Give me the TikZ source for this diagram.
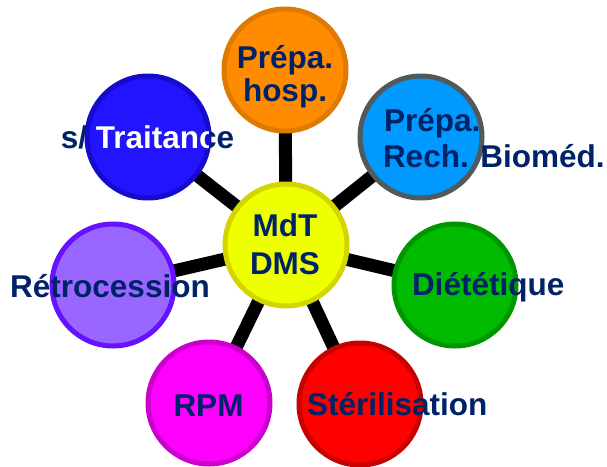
\documentclass[tikz,border=0pt]{standalone}
\usepackage{fontspec}
\setmainfont{Liberation Sans}
\usetikzlibrary{backgrounds}

% palette
\definecolor{navy}{RGB}{0,34,102}
\definecolor{orFill}{RGB}{255,140,0}   \definecolor{orLine}{RGB}{222,122,0}
\definecolor{skFill}{RGB}{0,153,255}   \definecolor{skLine}{RGB}{80,90,90}
\definecolor{blFill}{RGB}{34,20,255}   \definecolor{blLine}{RGB}{22,10,205}
\definecolor{yeFill}{RGB}{238,255,0}   \definecolor{yeLine}{RGB}{212,212,0}
\definecolor{viFill}{RGB}{153,102,255} \definecolor{viLine}{RGB}{102,17,255}
\definecolor{grFill}{RGB}{0,187,0}     \definecolor{grLine}{RGB}{0,150,0}
\definecolor{mgFill}{RGB}{255,0,255}   \definecolor{mgLine}{RGB}{204,0,204}
\definecolor{rdFill}{RGB}{255,0,0}     \definecolor{rdLine}{RGB}{200,0,0}

\tikzset{
  disc/.style 2 args={circle, inner sep=0pt, minimum size=122pt,
    line width=5pt, fill=#1, draw=#2},
  spoke/.style={line width=13pt, black},
  lbl/.style={inner sep=0pt, outer sep=0pt, text=navy, font=\bfseries\fontsize{31.5}{36}\selectfont},
}

\begin{document}
\begin{tikzpicture}[x=1pt, y=-1pt]
  \useasboundingbox (0,0) rectangle (607,466);

  % discs
  \node[disc={yeFill}{yeLine}] (hub)   at (286,245) {};
  \node[disc={orFill}{orLine}] (hosp)  at (285,70)  {};
  \node[disc={skFill}{skLine}] (rech)  at (421,137) {};
  \node[disc={blFill}{blLine}] (trait) at (148,137) {};
  \node[disc={viFill}{viLine}] (retro) at (113,285) {};
  \node[disc={grFill}{grLine}] (diet)  at (455,285) {};
  \node[disc={mgFill}{mgLine}] (rpm)   at (209,403) {};
  \node[disc={rdFill}{rdLine}] (steri) at (360,404) {};

  % spokes from the hub, behind the discs
  \begin{scope}[on background layer]
    \foreach \n in {hosp,rech,trait,retro,diet,rpm,steri}
      \draw[spoke] (hub.center) -- (\n.center);
  \end{scope}

  % labels
  \node[lbl, anchor=base] (hospA) at (285,68)  {Prépa.};
  \node[lbl, anchor=base] (hospB) at (285,101) {hosp.};

  \node[lbl, anchor=base west] (rechA) at (384,131) {Prépa.};
  \node[lbl, anchor=base west] (rechB) at (383,167) {Rech. Bioméd.};

  \node[lbl, anchor=base] (traitT) at (147.5,148) {s/ Traitance};
  \begin{scope}
    \clip (trait.center) circle (61pt);
    \node[lbl, anchor=base, text=white] (traitW) at (147.5,148) {s/ Traitance};
  \end{scope}

  \node[lbl, anchor=base] (hubA) at (285,236) {MdT};
  \node[lbl, anchor=base] (hubB) at (285,274) {DMS};

  \node[lbl, anchor=base] (retroT) at (110,297) {Rétrocession};
  \node[lbl, anchor=base west] (dietT) at (412,295) {Diététique};
  \node[lbl, anchor=base] (rpmT) at (208.5,416) {RPM};
  \node[lbl, anchor=base west] (steriT) at (307,415) {Stérilisation};
\end{tikzpicture}
\end{document}
